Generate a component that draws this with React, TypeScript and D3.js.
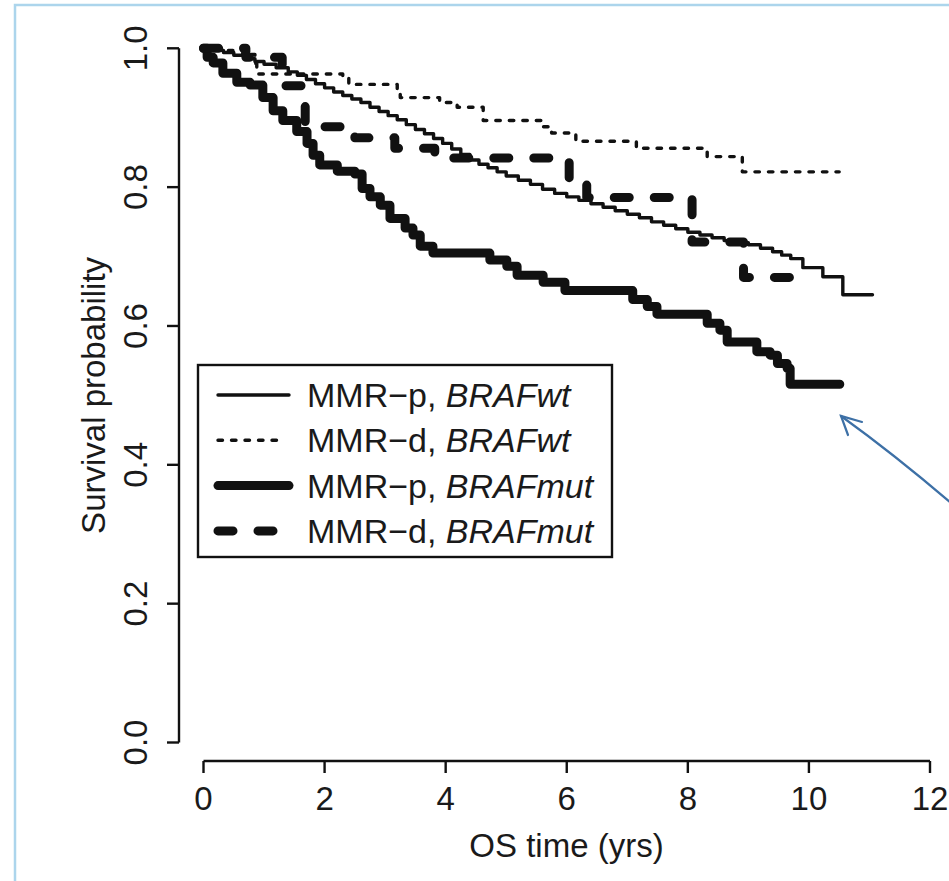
import React from "react";
import * as d3 from "d3";

type Pt = [number, number];

// Kaplan–Meier step data: [years, survival]
const mmrpBrafWt: Pt[] = [
  [0, 1], [0.15, 0.997], [0.33, 0.994], [0.5, 0.99], [0.7, 0.985], [0.85, 0.981], [1.0, 0.977],
  [1.2, 0.972], [1.4, 0.966], [1.55, 0.961], [1.7, 0.955], [1.85, 0.949], [2.0, 0.943],
  [2.15, 0.937], [2.3, 0.932], [2.45, 0.927], [2.6, 0.922], [2.75, 0.915], [2.9, 0.909],
  [3.05, 0.903], [3.2, 0.897], [3.35, 0.89], [3.5, 0.883], [3.65, 0.877], [3.8, 0.87],
  [3.95, 0.863], [4.1, 0.855], [4.25, 0.847], [4.4, 0.839], [4.55, 0.833], [4.7, 0.828],
  [4.85, 0.822], [5.0, 0.816], [5.2, 0.81], [5.4, 0.804], [5.6, 0.797], [5.8, 0.791],
  [6.0, 0.786], [6.2, 0.781], [6.4, 0.776], [6.6, 0.771], [6.8, 0.766], [7.0, 0.761],
  [7.2, 0.756], [7.4, 0.75], [7.6, 0.745], [7.8, 0.74], [8.0, 0.735], [8.2, 0.731],
  [8.4, 0.727], [8.6, 0.723], [8.8, 0.72], [9.0, 0.717], [9.2, 0.712], [9.4, 0.707],
  [9.55, 0.702], [9.7, 0.697], [9.9, 0.684], [10.23, 0.671], [10.56, 0.645], [11.05, 0.645],
];

const mmrdBrafWt: Pt[] = [
  [0, 1], [0.39, 0.997], [0.65, 0.991], [0.85, 0.978], [0.88, 0.963], [2.3, 0.957],
  [2.4, 0.948], [3.2, 0.938], [3.25, 0.929], [3.9, 0.922], [4.19, 0.915], [4.62, 0.896],
  [5.6, 0.887], [5.75, 0.878], [6.15, 0.866], [7.15, 0.856], [8.32, 0.844], [8.9, 0.822],
  [10.5, 0.822],
];

const mmrpBrafMut: Pt[] = [
  [0, 1], [0.06, 0.987], [0.16, 0.979], [0.32, 0.964], [0.55, 0.951], [0.77, 0.947],
  [0.98, 0.929], [1.15, 0.91], [1.31, 0.896], [1.54, 0.88], [1.71, 0.863], [1.81, 0.846],
  [1.92, 0.832], [2.21, 0.823], [2.5, 0.819], [2.62, 0.798], [2.75, 0.786], [2.92, 0.774],
  [3.08, 0.755], [3.33, 0.741], [3.46, 0.731], [3.58, 0.715], [3.79, 0.705], [4.73, 0.695],
  [5.01, 0.686], [5.18, 0.673], [5.61, 0.663], [5.97, 0.651], [7.09, 0.638], [7.33, 0.628],
  [7.49, 0.617], [8.32, 0.604], [8.53, 0.594], [8.65, 0.577], [9.14, 0.563], [9.36, 0.558],
  [9.48, 0.546], [9.64, 0.539], [9.69, 0.516], [10.51, 0.516],
];

const mmrdBrafMut: Pt[] = [
  [0, 1], [0.7, 0.987], [1.3, 0.946], [1.68, 0.887], [2.5, 0.871], [3.16, 0.856],
  [3.82, 0.842], [6.04, 0.806], [6.33, 0.785], [8.07, 0.721], [8.92, 0.67], [9.95, 0.67],
];

const xTicks = [0, 2, 4, 6, 8, 10, 12];
const yTicks = [0, 0.2, 0.4, 0.6, 0.8, 1.0];
const legendGroups = ["MMR\u2212p, ", "MMR\u2212d, ", "MMR\u2212p, ", "MMR\u2212d, "];
const legendGenes = ["BRAFwt", "BRAFwt", "BRAFmut", "BRAFmut"];

const FONT = "'Liberation Sans', Arial, Helvetica, sans-serif";

const styles = [
  { w: 3.4, dash: undefined as string | undefined },
  { w: 3.4, dash: "4.5 9" },
  { w: 9, dash: undefined as string | undefined },
  { w: 9, dash: "15 25" },
];

export default function App() {
  const x = d3.scaleLinear().domain([0, 12]).range([203.5, 930]);
  const y = d3.scaleLinear().domain([0, 1]).range([742.5, 48.3]);
  const line = d3
    .line<Pt>()
    .x((d) => x(d[0]))
    .y((d) => y(d[1]))
    .curve(d3.curveStepAfter);

  const series = [mmrpBrafWt, mmrdBrafWt, mmrpBrafMut, mmrdBrafMut];
  const axisY = 761;
  const axisX = 179;
  const legY0 = 395;
  const legDy = 45.3;

  return (
    <svg
      width={949}
      height={881}
      style={{ position: "absolute", left: 0, top: 0, background: "#fff" }}
    >
      <rect x={0} y={0} width={949} height={881} fill="#fff" />
      <rect x={15} y={5} width={1000} height={1000} fill="none" stroke="#acd5ec" strokeWidth={2.5} />

      {/* x axis */}
      <line x1={x(0)} x2={x(12)} y1={axisY} y2={axisY} stroke="#111" strokeWidth={2.4} />
      {xTicks.map((t) => (
        <g key={"xt" + t}>
          <line x1={x(t)} x2={x(t)} y1={axisY} y2={axisY + 12} stroke="#111" strokeWidth={2.4} />
          <text x={x(t)} y={810} fontSize={33} fontFamily={FONT} textAnchor="middle" fill="#1a1a1a">
            {t}
          </text>
        </g>
      ))}
      <text x={566.5} y={857} fontSize={33} fontFamily={FONT} textAnchor="middle" fill="#1a1a1a">
        OS time (yrs)
      </text>

      {/* y axis */}
      <line x1={axisX} x2={axisX} y1={y(0)} y2={y(1)} stroke="#111" strokeWidth={2.4} />
      {yTicks.map((t) => (
        <g key={"yt" + t}>
          <line x1={axisX - 12} x2={axisX} y1={y(t)} y2={y(t)} stroke="#111" strokeWidth={2.4} />
          <text
            transform={`translate(147,${y(t)}) rotate(-90)`}
            fontSize={33}
            fontFamily={FONT}
            textAnchor="middle"
            fill="#1a1a1a"
          >
            {t.toFixed(1)}
          </text>
        </g>
      ))}
      <text
        transform={`translate(105,${(y(0) + y(1)) / 2}) rotate(-90)`}
        fontSize={33}
        fontFamily={FONT}
        textAnchor="middle"
        fill="#1a1a1a"
      >
        Survival probability
      </text>

      {/* curves */}
      {series.map((s, i) => (
        <path
          key={"s" + i}
          d={line(s) || ""}
          fill="none"
          stroke="#111"
          strokeWidth={styles[i].w}
          strokeDasharray={styles[i].dash}
          strokeLinecap="round"
          strokeLinejoin="round"
        />
      ))}

      {/* legend */}
      <rect x={198} y={365} width={414} height={192} fill="#fff" stroke="#111" strokeWidth={2.4} />
      {legendGroups.map((g, i) => (
        <g key={"lg" + i}>
          <line
            x1={218}
            x2={i === 1 ? 278 : 289}
            y1={legY0 + i * legDy}
            y2={legY0 + i * legDy}
            stroke="#111"
            strokeWidth={styles[i].w}
            strokeDasharray={styles[i].dash}
            strokeLinecap="round"
          />
          <text x={307} y={legY0 + i * legDy + 12} fontSize={34} fontFamily={FONT} fill="#1a1a1a">
            {g}
            <tspan fontStyle="italic">{legendGenes[i]}</tspan>
          </text>
        </g>
      ))}

      {/* annotation arrow */}
      <g stroke="#3d70a6" strokeWidth={2.2} fill="none" strokeLinecap="round">
        <path d="M 951 503 Q 895 455 841 416" />
        <path d="M 862 422 L 841 416 L 848 435" />
      </g>
    </svg>
  );
}
